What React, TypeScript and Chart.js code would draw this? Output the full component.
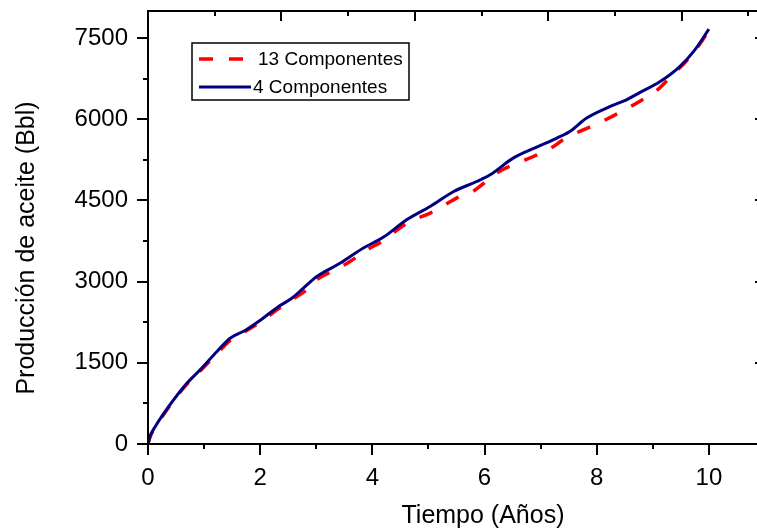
import React, { useEffect, useRef } from "react";
import { Chart, registerables } from "chart.js";

Chart.register(...registerables);

// ---- data ----
const tiempo4 = [0, 0.04, 0.13, 0.37, 0.67, 0.96, 1.23, 1.47, 1.73, 1.97, 2.33, 2.57, 2.77, 3.01, 3.43, 3.84, 4.2, 4.61, 5.03, 5.45, 5.86, 6.1, 6.51, 6.93, 7.29, 7.52, 7.82, 8.24, 8.53, 8.75, 9.13, 9.48, 9.75, 10.0];
const prod4 = [0, 150, 325, 694, 1095, 1404, 1710, 1958, 2098, 2264, 2541, 2697, 2881, 3096, 3343, 3620, 3823, 4143, 4388, 4666, 4850, 4974, 5282, 5486, 5652, 5774, 6021, 6236, 6359, 6483, 6697, 6974, 7283, 7665];

const tiempo13 = [0, 0.04, 0.13, 0.37, 0.67, 0.96, 1.23, 1.47, 1.73, 1.97, 2.33, 2.57, 2.83, 3.01, 3.4, 3.6, 3.93, 4.14, 4.49, 4.67, 5.03, 5.24, 5.56, 5.79, 6.13, 6.22, 6.69, 6.87, 7.23, 7.4, 7.76, 7.97, 8.33, 8.5, 8.86, 9.07, 9.39, 9.59, 9.87, 10.0];
const prod13 = [0, 140, 310, 680, 1080, 1380, 1670, 1920, 2080, 2230, 2500, 2670, 2850, 3035, 3250, 3373, 3601, 3724, 3990, 4112, 4266, 4389, 4573, 4666, 4940, 5010, 5233, 5312, 5497, 5620, 5805, 5897, 6082, 6175, 6390, 6531, 6864, 7067, 7436, 7650];

const xMajorTicks = [0, 2, 4, 6, 8, 10];
const xMinorTicks = [1, 3, 5, 7, 9];
const yMajorTicks = [0, 1500, 3000, 4500, 6000, 7500];
const yMinorTicks = [750, 2250, 3750, 5250, 6750];
const topAxisMax = 9.25; // mirrored top axis (own range)
const topAxisTicks = [1, 2, 3, 4, 5, 6, 7, 8, 9];

const label13 = "13 Componentes";
const label4 = "4 Componentes";
const xTitle = "Tiempo (Años)";
const yTitle = "Producción de aceite (Bbl)";

const W = 770;
const H = 531;
const FONT = '"Liberation Sans", Arial, sans-serif';

const framePlugin = {
  id: "frame",
  afterDraw(chart: any) {
    const { ctx, chartArea: a, scales } = chart;
    const x = scales.x;
    const y = scales.y;
    ctx.save();
    ctx.strokeStyle = "#000";
    ctx.lineWidth = 2;
    ctx.setLineDash([]);
    ctx.strokeRect(a.left, a.top, a.right - a.left, a.bottom - a.top);
    const seg = (x1: number, y1: number, x2: number, y2: number) => {
      ctx.beginPath();
      ctx.moveTo(x1, y1);
      ctx.lineTo(x2, y2);
      ctx.stroke();
    };
    xMajorTicks.forEach((v) => {
      const p = Math.round(x.getPixelForValue(v));
      seg(p, a.bottom, p, a.bottom + 11);
    });
    xMinorTicks.forEach((v) => {
      const p = Math.round(x.getPixelForValue(v));
      seg(p, a.bottom, p, a.bottom + 5);
    });
    yMajorTicks.forEach((v) => {
      const p = Math.round(y.getPixelForValue(v));
      seg(a.left - 11, p, a.left, p);
      seg(a.right - 10, p, a.right, p);
    });
    yMinorTicks.forEach((v) => {
      const p = Math.round(y.getPixelForValue(v));
      seg(a.left - 5, p, a.left, p);
      seg(a.right - 5, p, a.right, p);
    });
    topAxisTicks.forEach((k) => {
      const p = Math.round(a.left + (k / topAxisMax) * (a.right - a.left));
      seg(p, a.top, p, a.top + (k % 2 === 0 ? 10 : 5));
    });

    // axis titles
    ctx.fillStyle = "#000";
    ctx.font = `25px ${FONT}`;
    ctx.textAlign = "center";
    ctx.textBaseline = "middle";
    ctx.fillText(xTitle, 483, 516);
    ctx.save();
    ctx.translate(27, 248);
    ctx.rotate(-Math.PI / 2);
    ctx.fillText(yTitle, 0, 0);
    ctx.restore();

    // legend
    const lx = a.left + 44;
    const ly = a.top + 32;
    ctx.lineWidth = 1.5;
    ctx.strokeRect(lx, ly, 217, 57);
    ctx.lineWidth = 3.5;
    ctx.strokeStyle = "#FF0000";
    ctx.setLineDash([14, 16]);
    seg(lx + 7, ly + 16, lx + 51, ly + 16);
    ctx.setLineDash([]);
    ctx.lineWidth = 3;
    ctx.strokeStyle = "#000080";
    seg(lx + 7, ly + 44, lx + 59, ly + 44);
    ctx.fillStyle = "#000";
    ctx.font = `19px ${FONT}`;
    ctx.textAlign = "left";
    ctx.fillText(label13, lx + 66, ly + 17);
    ctx.fillText(label4, lx + 61, ly + 45);
    ctx.restore();
  },
};

export default function App() {
  const ref = useRef<HTMLCanvasElement | null>(null);
  useEffect(() => {
    if (!ref.current) return;
    const chart = new Chart(ref.current, {
      type: "line",
      data: {
        datasets: [
          {
            label: label4,
            data: tiempo4.map((t, i) => ({ x: t, y: prod4[i] })),
            borderColor: "#000080",
            borderWidth: 3,
            pointRadius: 0,
            cubicInterpolationMode: "monotone",
            fill: false,
          },
          {
            label: label13,
            data: tiempo13.map((t, i) => ({ x: t, y: prod13[i] })),
            borderColor: "#FF0000",
            borderWidth: 3.5,
            borderDash: [14, 16],
            pointRadius: 0,
            cubicInterpolationMode: "monotone",
            fill: false,
          },
        ],
      },
      options: {
        animation: false,
        responsive: false,
        devicePixelRatio: 1,
        layout: { padding: { left: 0, top: 11, right: W - 765, bottom: 0 } },
        plugins: { legend: { display: false }, tooltip: { enabled: false } },
        scales: {
          x: {
            type: "linear",
            min: 0,
            max: 11,
            grid: { display: false, drawTicks: false },
            border: { display: false },
            afterBuildTicks: (s: any) => {
              s.ticks = xMajorTicks.map((v) => ({ value: v }));
            },
            ticks: {
              padding: 20,
              color: "#000",
              font: { family: FONT, size: 24 },
              maxRotation: 0,
              autoSkip: false,
              callback: (v: any) => String(v),
            },
            afterFit: (s: any) => {
              s.height = H - 444;
              s.paddingLeft = 0;
              s.paddingRight = 0;
            },
          },
          y: {
            type: "linear",
            min: 0,
            max: 8000,
            grid: { display: false, drawTicks: false },
            border: { display: false },
            afterBuildTicks: (s: any) => {
              s.ticks = yMajorTicks.map((v) => ({ value: v }));
            },
            ticks: {
              padding: 20,
              color: "#000",
              autoSkip: false,
              font: { family: FONT, size: 24 },
              callback: (v: any) => String(v),
            },
            afterFit: (s: any) => {
              s.width = 148;
              s.paddingTop = 0;
              s.paddingBottom = 0;
            },
          },
        },
      },
      plugins: [framePlugin],
    } as any);
    return () => chart.destroy();
  }, []);
  return (
    <div style={{ position: "fixed", left: 0, top: 0, width: 757, height: 531, overflow: "hidden", background: "#fff" }}>
      <canvas ref={ref} width={W} height={H} style={{ display: "block", width: W, height: H }} />
    </div>
  );
}
